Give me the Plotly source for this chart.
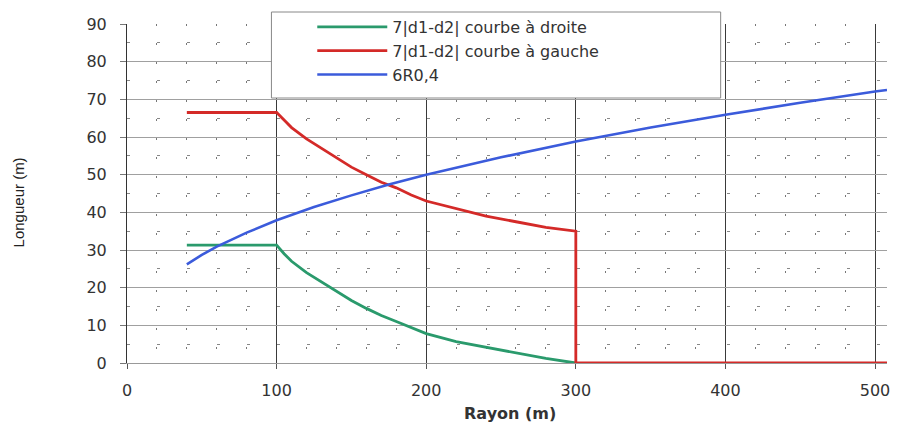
import plotly.graph_objects as go

# Data
green_x = [40, 100, 105, 110, 120, 130, 140, 150, 160, 170, 180, 190, 200, 220, 240, 260, 280, 300]
green_y = [31.3, 31.3, 29.0, 27.0, 24.0, 21.5, 19.0, 16.6, 14.5, 12.6, 11.0, 9.3, 7.8, 5.7, 4.2, 2.6, 1.2, 0.0]

red_x = [40, 100, 105, 110, 120, 130, 140, 150, 160, 170, 180, 190, 200, 220, 240, 260, 280, 300, 300, 508]
red_y = [66.5, 66.5, 64.5, 62.5, 59.5, 57.0, 54.5, 52.0, 50.0, 48.0, 46.5, 44.6, 43.0, 41.0, 39.0, 37.5, 36.0, 35.0, 0.0, 0.0]

blue_x = [40, 50, 60, 80, 100, 125, 150, 175, 200, 250, 300, 350, 400, 450, 500, 508]
blue_y = [26.2, 28.7, 30.9, 34.6, 37.9, 41.4, 44.5, 47.4, 50.0, 54.6, 58.8, 62.5, 65.9, 69.1, 72.1, 72.5]

names = ["7|d1-d2| courbe à droite", "7|d1-d2| courbe à gauche", "6R0,4"]
x_ticks = [0, 100, 200, 300, 400, 500]
y_ticks = [0, 10, 20, 30, 40, 50, 60, 70, 80, 90]

GREEN = "#2a9a6c"
RED = "#d42a28"
BLUE = "#3b5bdb"

fig = go.Figure()
fig.add_trace(go.Scatter(x=green_x, y=green_y, name=names[0], mode="lines",
                         line=dict(color=GREEN, width=2.8), cliponaxis=False))
fig.add_trace(go.Scatter(x=red_x, y=red_y, name=names[1], mode="lines",
                         line=dict(color=RED, width=2.8), cliponaxis=False))
fig.add_trace(go.Scatter(x=blue_x, y=blue_y, name=names[2], mode="lines",
                         line=dict(color=BLUE, width=2.6), cliponaxis=False))

L, R, T, B = 127, 8, 24, 63
W, H = 898, 426
pw = W - L - R
ph = H - T - B

def px_x(p):
    return (p - L) / pw

def px_y(p):
    return (H - B - p) / ph

tickfont = dict(family="DejaVu Sans", size=16, color="#333333")

fig.update_layout(
    width=W, height=H,
    margin=dict(l=L, r=R, t=T, b=B),
    paper_bgcolor="white", plot_bgcolor="white",
    showlegend=True,
    legend=dict(x=px_x(313), y=px_y(10), xanchor="left", yanchor="top",
                bgcolor="rgba(0,0,0,0)", borderwidth=0,
                font=dict(family="DejaVu Sans", size=16, color="#333333"),
                itemwidth=70, tracegroupgap=0),
    xaxis=dict(range=[0, 508], tickvals=x_ticks, ticktext=[str(v) for v in x_ticks],
               showgrid=True, gridcolor="#3a3a3a", gridwidth=1,
               zeroline=False, showline=True, linecolor="#999999", linewidth=1,
               ticks="outside", ticklen=5, tickcolor="#555555",
               tickfont=tickfont, ticklabelstandoff=8,
               minor=dict(dtick=20, tick0=0, showgrid=True, gridcolor="#777777",
                          gridwidth=1, griddash="2px,17px", ticks="")),
    yaxis=dict(range=[0, 90], tickvals=y_ticks, ticktext=[str(v) for v in y_ticks],
               showgrid=True, gridcolor="#a0a0a0", gridwidth=1,
               zeroline=False, showline=True, linecolor="#333333", linewidth=1,
               ticks="outside", ticklen=6, tickcolor="#777777",
               tickfont=tickfont, ticklabelstandoff=10,
               minor=dict(dtick=5, tick0=0, showgrid=True, gridcolor="#888888",
                          gridwidth=1, griddash="3px,27px", ticks="")),
    shapes=[dict(type="rect", xref="paper", yref="paper",
                 x0=px_x(272), x1=px_x(723), y0=px_y(98), y1=px_y(12),
                 fillcolor="white", line=dict(color="#888888", width=1), layer="above")],
    annotations=[
        dict(text="Longueur (m)", xref="paper", yref="paper", x=px_x(18), y=px_y(202),
             textangle=-90, showarrow=False, xanchor="center", yanchor="middle",
             font=dict(family="Liberation Sans", size=15, color="#222222")),
        dict(text="<b>Rayon (m)</b>", xref="paper", yref="paper", x=px_x(512), y=px_y(413),
             showarrow=False, xanchor="center", yanchor="middle",
             font=dict(family="DejaVu Sans", size=16, color="#333333")),
    ],
)

fig.write_html("out.html")
